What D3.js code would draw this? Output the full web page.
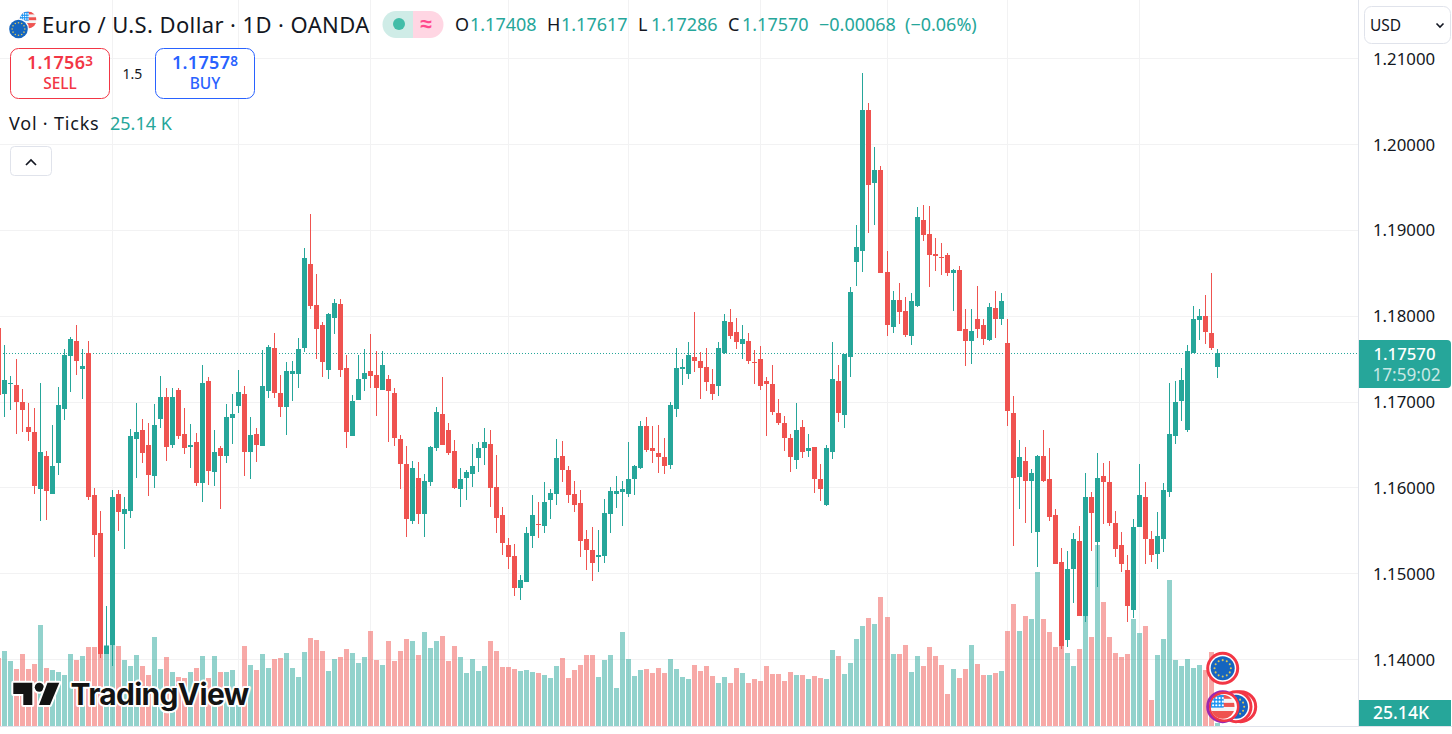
<!DOCTYPE html>
<html>
<head>
<meta charset="utf-8">
<title>EURUSD 1D</title>
<script src="https://cdn.jsdelivr.net/npm/d3@7/dist/d3.min.js"></script>
<style>
  html, body { margin: 0; padding: 0; background: #fff; overflow: hidden; }
  svg { display: block; }
  text { font-family: "Noto Sans", sans-serif; }
</style>
</head>
<body>
<svg id="chart" width="1452" height="734"></svg>
<script>
// Daily bars, oldest first. The first bar is cut off by the left edge.
const highs = [
  1.1786,1.1767,1.1731,1.1750,1.1715,1.1699,1.1693,1.1722,1.1643,1.1673,
  1.1718,1.1762,1.1776,1.1790,1.1762,1.1771,1.1600,1.1573,1.1462,1.1598,
  1.1598,1.1589,1.1669,1.1699,1.1680,1.1676,1.1698,1.1731,1.1717,1.1717,
  1.1717,1.1693,1.1675,1.1664,1.1743,1.1729,1.1667,1.1649,1.1698,1.1710,
  1.1738,1.1719,1.1683,1.1670,1.1761,1.1767,1.1781,1.1732,1.1747,1.1748,
  1.1775,1.1880,1.1919,1.1849,1.1793,1.1804,1.1820,1.1820,1.1755,1.1708,
  1.1755,1.1762,1.1779,1.1760,1.1760,1.1732,1.1717,1.1662,1.1649,1.1632,
  1.1630,1.1616,1.1649,1.1694,1.1729,1.1676,1.1656,1.1623,1.1621,1.1651,
  1.1653,1.1670,1.1667,1.1639,1.1578,1.1542,1.1535,1.1499,1.1554,1.1592,
  1.1584,1.1607,1.1599,1.1657,1.1655,1.1626,1.1608,1.1598,1.1551,1.1554,
  1.1551,1.1587,1.1601,1.1614,1.1608,1.1654,1.1627,1.1678,1.1683,1.1672,
  1.1673,1.1658,1.1700,1.1763,1.1750,1.1770,1.1805,1.1758,1.1763,1.1739,
  1.1770,1.1803,1.1809,1.1798,1.1790,1.1781,1.1761,1.1765,1.1729,1.1743,
  1.1704,1.1684,1.1663,1.1699,1.1679,1.1663,1.1648,1.1628,1.1650,1.1770,
  1.1743,1.1756,1.1834,1.1907,1.2083,1.2048,1.1997,1.1975,1.1876,1.1830,
  1.1839,1.1823,1.1827,1.1927,1.1930,1.1928,1.1891,1.1885,1.1874,1.1855,
  1.1859,1.1809,1.1809,1.1835,1.1797,1.1816,1.1830,1.1827,1.1797,1.1707,
  1.1656,1.1648,1.1622,1.1639,1.1668,1.1647,1.1576,1.1530,1.1526,1.1548,
  1.1556,1.1618,1.1595,1.1641,1.1629,1.1632,1.1573,1.1549,1.1522,1.1564,
  1.1628,1.1607,1.1550,1.1572,1.1606,1.1722,1.1725,1.1740,1.1767,1.1812,
  1.1809,1.1825,1.1850,1.17617
];
const lows = [
  1.1708,1.1683,1.1691,1.1663,1.1665,1.1655,1.1593,1.1561,1.1563,1.1593,
  1.1615,1.1679,1.1712,1.1732,1.1704,1.1586,1.1520,1.1402,1.1406,1.1393,
  1.1550,1.1529,1.1565,1.1612,1.1629,1.1591,1.1600,1.1670,1.1632,1.1647,
  1.1657,1.1640,1.1623,1.1602,1.1584,1.1604,1.1602,1.1575,1.1629,1.1651,
  1.1687,1.1614,1.1610,1.1630,1.1649,1.1705,1.1705,1.1683,1.1662,1.1701,
  1.1717,1.1758,1.1809,1.1750,1.1729,1.1727,1.1779,1.1729,1.1647,1.1660,
  1.1703,1.1713,1.1717,1.1684,1.1714,1.1653,1.1649,1.1599,1.1543,1.1558,
  1.1558,1.1543,1.1602,1.1643,1.1650,1.1639,1.1599,1.1578,1.1586,1.1601,
  1.1619,1.1627,1.1578,1.1548,1.1522,1.1506,1.1474,1.1470,1.1491,1.1530,
  1.1542,1.1548,1.1564,1.1580,1.1607,1.1583,1.1572,1.1519,1.1504,1.1492,
  1.1502,1.1513,1.1548,1.1577,1.1556,1.1590,1.1592,1.1622,1.1642,1.1629,
  1.1618,1.1616,1.1622,1.1683,1.1720,1.1727,1.1735,1.1704,1.1713,1.1703,
  1.1707,1.1756,1.1774,1.1762,1.1750,1.1745,1.1721,1.1714,1.1660,1.1685,
  1.1673,1.1643,1.1619,1.1622,1.1635,1.1636,1.1594,1.1585,1.1579,1.1634,
  1.1677,1.1670,1.1729,1.1835,1.1852,1.1897,1.1906,1.1850,1.1777,1.1781,
  1.1791,1.1776,1.1767,1.1811,1.1888,1.1834,1.1853,1.1848,1.1847,1.1806,
  1.1783,1.1742,1.1745,1.1775,1.1767,1.1771,1.1775,1.1790,1.1672,1.1532,
  1.1576,1.1559,1.1547,1.1508,1.1607,1.1562,1.1511,1.1412,1.1415,1.1466,
  1.1451,1.1444,1.1526,1.1485,1.1558,1.1556,1.1520,1.1502,1.1444,1.1448,
  1.1554,1.1511,1.1514,1.1506,1.1525,1.1590,1.1651,1.1678,1.1665,1.1757,
  1.1772,1.1768,1.1761,1.17286
];
const opens = [
  1.1786,1.1710,1.1721,1.1720,1.1700,1.1671,1.1665,1.1599,1.1637,1.1593,
  1.1629,1.1692,1.1754,1.1771,1.1739,1.1757,1.1592,1.1548,1.1406,1.1417,
  1.1593,1.1570,1.1573,1.1657,1.1667,1.1650,1.1614,1.1680,1.1706,1.1650,
  1.1714,1.1663,1.1648,1.1654,1.1606,1.1725,1.1619,1.1647,1.1637,1.1682,
  1.1696,1.1710,1.1642,1.1663,1.1649,1.1713,1.1763,1.1711,1.1694,1.1733,
  1.1733,1.1763,1.1861,1.1813,1.1790,1.1738,1.1798,1.1814,1.1740,1.1661,
  1.1703,1.1727,1.1736,1.1732,1.1714,1.1727,1.1711,1.1657,1.1628,1.1561,
  1.1612,1.1570,1.1607,1.1646,1.1686,1.1668,1.1643,1.1599,1.1612,1.1616,
  1.1635,1.1646,1.1651,1.1601,1.1568,1.1533,1.1521,1.1483,1.1491,1.1544,
  1.1558,1.1556,1.1586,1.1593,1.1637,1.1621,1.1593,1.1583,1.1540,1.1528,
  1.1519,1.1521,1.1570,1.1593,1.1595,1.1593,1.1610,1.1623,1.1672,1.1647,
  1.1641,1.1636,1.1627,1.1692,1.1739,1.1733,1.1753,1.1748,1.1741,1.1721,
  1.1719,1.1757,1.1793,1.1782,1.1768,1.1771,1.1747,1.1750,1.1725,1.1721,
  1.1687,1.1676,1.1658,1.1633,1.1671,1.1643,1.1648,1.1610,1.1580,1.1642,
  1.1725,1.1685,1.1753,1.1863,1.1876,1.2040,1.1955,1.1970,1.1852,1.1788,
  1.1819,1.1806,1.1777,1.1812,1.1912,1.1896,1.1873,1.1869,1.1871,1.1850,
  1.1854,1.1785,1.1771,1.1797,1.1790,1.1772,1.1810,1.1797,1.1769,1.1687,
  1.1613,1.1632,1.1608,1.1549,1.1637,1.1610,1.1568,1.1514,1.1423,1.1506,
  1.1538,1.1451,1.1590,1.1537,1.1614,1.1607,1.1559,1.1533,1.1504,1.1458,
  1.1554,1.1590,1.1540,1.1523,1.1541,1.1595,1.1661,1.1701,1.1667,1.1757,
  1.1796,1.1800,1.1781,1.17408
];
const closes = [
  1.1708,1.1726,1.1722,1.1700,1.1691,1.1665,1.1602,1.1642,1.1597,1.1626,
  1.1697,1.1755,1.1774,1.1748,1.1742,1.1589,1.1545,1.1406,1.1416,1.1589,
  1.1572,1.1576,1.1661,1.1665,1.1641,1.1615,1.1673,1.1706,1.1648,1.1706,
  1.1661,1.1646,1.1650,1.1606,1.1722,1.1620,1.1642,1.1637,1.1683,1.1686,
  1.1712,1.1642,1.1662,1.1650,1.1719,1.1764,1.1711,1.1694,1.1736,1.1736,
  1.1762,1.1868,1.1812,1.1785,1.1747,1.1803,1.1816,1.1738,1.1665,1.1701,
  1.1727,1.1734,1.1731,1.1717,1.1743,1.1713,1.1658,1.1628,1.1564,1.1623,
  1.1570,1.1608,1.1648,1.1689,1.1650,1.1641,1.1600,1.1611,1.1619,1.1626,
  1.1646,1.1653,1.1600,1.1565,1.1536,1.1519,1.1483,1.1493,1.1548,1.1568,
  1.1557,1.1584,1.1594,1.1635,1.1621,1.1592,1.1580,1.1538,1.1528,1.1513,
  1.1522,1.1571,1.1597,1.1597,1.1599,1.1610,1.1626,1.1672,1.1644,1.1643,
  1.1636,1.1626,1.1697,1.1740,1.1741,1.1755,1.1748,1.1740,1.1724,1.1710,
  1.1763,1.1795,1.1777,1.1770,1.1774,1.1748,1.1746,1.1719,1.1721,1.1689,
  1.1676,1.1658,1.1636,1.1668,1.1642,1.1647,1.1610,1.1599,1.1647,1.1727,
  1.1687,1.1756,1.1828,1.1881,1.2041,1.1953,1.1971,1.1850,1.1790,1.1819,
  1.1805,1.1778,1.1818,1.1916,1.1895,1.1871,1.1870,1.1868,1.1850,1.1854,
  1.1783,1.1771,1.1783,1.1785,1.1774,1.1811,1.1797,1.1818,1.1690,1.1612,
  1.1636,1.1608,1.1618,1.1637,1.1608,1.1566,1.1511,1.1416,1.1506,1.1541,
  1.1451,1.1590,1.1571,1.1612,1.1607,1.1559,1.1529,1.1511,1.1462,1.1554,
  1.1592,1.1540,1.1522,1.1544,1.1598,1.1663,1.1700,1.1726,1.1760,1.1797,
  1.1800,1.1782,1.1763,1.17570
];
// Tick volume, thousands
const volumes = [
  680,750,650,570,720,570,620,1010,580,560,
  540,510,720,660,700,790,790,760,810,810,
  800,660,600,710,600,510,890,570,690,540,
  490,480,540,580,700,480,700,540,540,560,
  210,800,610,560,720,580,670,680,730,580,
  490,740,880,860,750,550,670,690,770,730,
  630,690,950,660,610,850,650,750,870,850,
  710,940,780,850,900,650,800,690,530,670,
  550,600,850,750,590,590,570,550,560,540,
  530,510,480,600,680,480,560,610,710,710,
  490,660,710,380,940,670,500,560,570,530,
  580,530,670,570,490,470,610,550,600,500,
  430,490,430,580,530,430,470,450,600,520,
  520,450,540,510,510,470,500,480,470,760,
  700,520,630,870,1000,1080,1020,1290,1090,720,
  720,810,540,700,600,790,700,610,320,570,
  480,570,810,620,510,510,530,550,950,1220,
  950,1100,1070,1540,1070,940,790,840,730,600,
  770,1100,890,1810,1240,890,730,690,720,1070,
  930,1000,260,710,870,1460,660,600,670,580,
  610,560,740,25.14
];
const priceTicks = [1.14, 1.15, 1.16, 1.17, 1.18, 1.19, 1.20, 1.21];
// Bars that carry a vertical grid line
const gridBars = [19, 40, 62, 85, 105, 127, 148, 168, 190];

const lastPrice = 1.1757;

const UP = '#26a69a', DOWN = '#ef5350', GRID = '#f2f2f3', BORDER = '#e0e3eb', INK = '#131722';
const W = 1452, H = 734;
const PANE_R = 1358, PANE_B = 726;

const svg = d3.select('#chart');
const x = d3.scaleLinear().domain([0, closes.length - 1]).range([-1.8, 1217.3]);
const y = d3.scaleLinear().domain([1.14, 1.21]).range([659.61, 58.87]);
const yVol = d3.scaleLinear().domain([0, 1000]).range([PANE_B, PANE_B - 100]);
const px = i => Math.floor(x(i));

const bars = d3.range(closes.length).map(i => ({
  i, open: opens[i], high: highs[i], low: lows[i], close: closes[i], vol: volumes[i],
  color: closes[i] >= opens[i] ? UP : DOWN,
}));

// Grid
const grid = svg.append('g').attr('stroke', GRID).attr('stroke-width', 1);
grid.selectAll('.gh').data(priceTicks).join('line').attr('class', 'gh')
  .attr('x1', 0).attr('x2', PANE_R)
  .attr('y1', d => Math.floor(y(d)) + 0.5).attr('y2', d => Math.floor(y(d)) + 0.5);
grid.selectAll('.gv').data(gridBars).join('line').attr('class', 'gv')
  .attr('x1', d => px(d) + 0.5).attr('x2', d => px(d) + 0.5)
  .attr('y1', 0).attr('y2', PANE_B);

// Volume
svg.append('g').attr('shape-rendering', 'crispEdges').selectAll('rect').data(bars).join('rect')
  .attr('x', d => px(d.i) - 2).attr('width', 5)
  .attr('y', d => Math.round(yVol(d.vol))).attr('height', d => PANE_B - Math.round(yVol(d.vol)))
  .attr('fill', d => d.color).attr('opacity', 0.5);

// Last price line
svg.append('line')
  .attr('x1', 0).attr('x2', PANE_R)
  .attr('y1', Math.floor(y(lastPrice)) + 0.5).attr('y2', Math.floor(y(lastPrice)) + 0.5)
  .attr('stroke', UP).attr('stroke-dasharray', '1 2');

// Candles
const candles = svg.append('g').attr('shape-rendering', 'crispEdges');
candles.selectAll('.wick').data(bars).join('rect').attr('class', 'wick')
  .attr('x', d => px(d.i)).attr('width', 1)
  .attr('y', d => Math.round(y(d.high)))
  .attr('height', d => Math.max(1, Math.round(y(d.low)) - Math.round(y(d.high))))
  .attr('fill', d => d.color);
candles.selectAll('.body').data(bars).join('rect').attr('class', 'body')
  .attr('x', d => px(d.i) - 2).attr('width', 5)
  .attr('y', d => Math.round(y(Math.max(d.open, d.close))))
  .attr('height', d => Math.max(1, Math.round(y(Math.min(d.open, d.close))) - Math.round(y(Math.max(d.open, d.close)))))
  .attr('fill', d => d.color);

// TradingView watermark
const wm = svg.append('g').attr('fill', '#131313').attr('stroke', '#fff').attr('stroke-width', 4)
  .attr('stroke-linejoin', 'round').attr('paint-order', 'stroke');
wm.append('path').attr('d', 'M13.3 682.7H32.3V705H23.3V694H13.3Z');
wm.append('circle').attr('cx', 39.3).attr('cy', 687.3).attr('r', 4.5);
wm.append('path').attr('d', 'M47.5 682.7H59.3L50 705H39Z');
wm.append('text').attr('x', 70.5).attr('y', 705).attr('font-size', 30).attr('font-weight', 700)
  .style('font-family', 'Inter').attr('letter-spacing', '-0.7').text('TradingView');

// Event badges
const defs = svg.append('defs');
function flagEU(cx, cy, r) {
  const g = svg.append('g').attr('transform', `translate(${cx},${cy})`);
  g.append('circle').attr('r', r).attr('fill', '#1565c0');
  d3.range(12).forEach(k => {
    const a = k / 12 * Math.PI * 2;
    g.append('circle').attr('cx', Math.cos(a) * r * 0.68).attr('cy', Math.sin(a) * r * 0.68)
      .attr('r', r * 0.085).attr('fill', '#d9c65a');
  });
}
function flagUS(cx, cy, r, id) {
  defs.append('clipPath').attr('id', id).append('circle').attr('r', r);
  const g = svg.append('g').attr('transform', `translate(${cx},${cy})`).attr('clip-path', `url(#${id})`);
  g.append('rect').attr('x', -r).attr('y', -r).attr('width', 2 * r).attr('height', 2 * r).attr('fill', '#f5f5f5');
  [-r, -r * 0.32, r * 0.36].forEach(t => {
    g.append('rect').attr('x', -r).attr('y', t).attr('width', 2 * r).attr('height', r * 0.34).attr('fill', '#ef5350');
  });
  g.append('rect').attr('x', r * -1).attr('y', r * 0.66).attr('width', 2 * r).attr('height', r * 0.4).attr('fill', '#ef5350');
  g.append('rect').attr('x', -r).attr('y', -r).attr('width', r * 1.08).attr('height', r * 1.08).attr('fill', '#2196f3');
  d3.range(3).forEach(a => d3.range(4).forEach(b => {
    g.append('circle').attr('cx', -r * 0.8 + b * r * 0.27).attr('cy', -r * 0.72 + a * r * 0.3)
      .attr('r', r * 0.09).attr('fill', '#fff');
  }));
}
function ring(cx, cy, color) {
  svg.append('circle').attr('cx', cx).attr('cy', cy).attr('r', 15)
    .attr('fill', '#fff').attr('stroke', color).attr('stroke-width', 3);
}
ring(1222.7, 668.3, '#f23645');
flagEU(1222.7, 668.3, 12);
ring(1240.7, 706.7, '#f23645');
ring(1236, 706.7, '#f23645');
flagEU(1236, 706.7, 12);
ring(1222.7, 706.7, '#9c27b0');
svg.append('circle').attr('cx', 1224.2).attr('cy', 706.7).attr('r', 14).attr('fill', '#fff')
  .attr('stroke', '#f23645').attr('stroke-width', 2.5);
flagUS(1222.7, 706.7, 12, 'us-clip');

// Axis panel
svg.append('rect').attr('x', PANE_R).attr('y', 0).attr('width', W - PANE_R).attr('height', H).attr('fill', '#fff');
svg.append('line').attr('x1', PANE_R + 0.5).attr('x2', PANE_R + 0.5).attr('y1', 0).attr('y2', PANE_B)
  .attr('stroke', BORDER);
svg.append('line').attr('x1', 0).attr('x2', W).attr('y1', PANE_B + 0.5).attr('y2', PANE_B + 0.5)
  .attr('stroke', BORDER);

const axis = d3.axisRight(y).tickValues(priceTicks).tickSize(0).tickPadding(15)
  .tickFormat(d3.format('.5f'));
const axisG = svg.append('g').attr('transform', `translate(${PANE_R},0)`).call(axis);
axisG.select('.domain').remove();
axisG.selectAll('text').attr('font-size', 16.8).style('font-family', '"Noto Sans", sans-serif').attr('fill', INK);

// Last price tag
svg.append('path').attr('d', 'M1359 340H1447a4 4 0 0 1 4 4V384a4 4 0 0 1 -4 4H1359Z').attr('fill', UP);
svg.append('text').attr('x', 1404.5).attr('y', 359.5).attr('text-anchor', 'middle')
  .attr('font-size', 16.8).attr('font-weight', 500).attr('fill', '#fff').text(d3.format('.5f')(closes[closes.length - 1]));
svg.append('text').attr('x', 1406.5).attr('y', 380.5).attr('text-anchor', 'middle')
  .attr('font-size', 17.2).attr('fill', '#fff').attr('fill-opacity', 0.75).text('17:59:02');

// Volume tag
svg.append('rect').attr('x', 1359).attr('y', 700).attr('width', 92).attr('height', 26).attr('fill', UP);
svg.append('text').attr('x', 1401).attr('y', 719).attr('text-anchor', 'middle')
  .attr('font-size', 17.6).attr('font-weight', 500).attr('fill', '#fff').text('25.14K');

// Currency selector
svg.append('rect').attr('x', 1364.5).attr('y', 6.5).attr('width', 86).attr('height', 37).attr('rx', 7)
  .attr('fill', '#fff').attr('stroke', BORDER);
svg.append('text').attr('x', 1370).attr('y', 31).attr('font-size', 15.5).attr('fill', INK).text('USD');
svg.append('path').attr('d', 'M1436.5 23.5L1440 27L1443.5 23.5').attr('fill', 'none').attr('stroke', INK).attr('stroke-width', 1.6);

// Legend header
flagUS(28, 20, 8.5, 'us-small');
svg.append('circle').attr('cx', 18.5).attr('cy', 29).attr('r', 10.5).attr('fill', '#fff');
flagEU(18.5, 29, 9.3);

svg.append('text').attr('x', 42).attr('y', 33).attr('font-size', 22).attr('letter-spacing', 0.4).attr('fill', INK)
  .text('Euro / U.S. Dollar · 1D · OANDA');

svg.append('path').attr('d', 'M396 11H413V38H396a13.5 13.5 0 0 1 0 -27Z').attr('fill', '#cfece7');
svg.append('path').attr('d', 'M413 11H430a13.5 13.5 0 0 1 0 27H413Z').attr('fill', '#ffd6e3');
svg.append('circle').attr('cx', 399).attr('cy', 24).attr('r', 6).attr('fill', '#42bda8');
svg.append('text').attr('x', 426).attr('y', 31).attr('text-anchor', 'middle').attr('font-size', 21).attr('font-weight', 700)
  .attr('fill', '#ff4a8d').text('≈');

const ohlc = [['O', 455, 470, '1.17408'], ['H', 547, 561, '1.17617'], ['L', 638, 651, '1.17286'], ['C', 728, 742, '1.17570']];
ohlc.forEach(([k, kx, vx, v]) => {
  svg.append('text').attr('x', kx).attr('y', 31).attr('font-size', 18).attr('fill', INK).text(k);
  svg.append('text').attr('x', vx).attr('y', 31).attr('font-size', 18).attr('fill', UP).text(v);
});
svg.append('text').attr('x', 819).attr('y', 31).attr('font-size', 18).attr('fill', UP).text('−0.00068');
svg.append('text').attr('x', 905).attr('y', 31).attr('font-size', 18).attr('fill', UP).text('(−0.06%)');

// Sell and buy buttons
function tradeBtn(bx, color, big, small, label) {
  svg.append('rect').attr('x', bx + 0.5).attr('y', 48.5).attr('width', 99).attr('height', 50).attr('rx', 8)
    .attr('fill', '#fff').attr('stroke', color);
  const t = svg.append('text').attr('x', bx + 50).attr('y', 69).attr('text-anchor', 'middle').attr('fill', color);
  t.append('tspan').attr('font-size', 18).attr('font-weight', 600).attr('letter-spacing', 0.3).text(big);
  t.append('tspan').attr('font-size', 13.5).attr('font-weight', 600).attr('dy', -3).text(small);
  svg.append('text').attr('x', bx + 50).attr('y', 89).attr('text-anchor', 'middle').attr('font-size', 15.5)
    .attr('font-weight', 500).attr('fill', color).text(label);
}
tradeBtn(10, '#f23645', '1.1756', '3', 'SELL');
tradeBtn(155, '#2962ff', '1.1757', '8', 'BUY');
svg.append('text').attr('x', 132.5).attr('y', 79).attr('text-anchor', 'middle').attr('font-size', 14).attr('fill', INK).text('1.5');

// Volume legend
svg.append('text').attr('x', 9).attr('y', 130).attr('font-size', 18).attr('letter-spacing', 0.8).attr('fill', INK).text('Vol · Ticks');
svg.append('text').attr('x', 110).attr('y', 130).attr('font-size', 18).attr('fill', UP).text('25.14 K');

// Collapse button
svg.append('rect').attr('x', 10.5).attr('y', 146.5).attr('width', 41).attr('height', 29).attr('rx', 4)
  .attr('fill', '#fff').attr('stroke', BORDER);
svg.append('path').attr('d', 'M26 165L31 160L36 165').attr('fill', 'none').attr('stroke', INK).attr('stroke-width', 1.7);
</script>
</body>
</html>
